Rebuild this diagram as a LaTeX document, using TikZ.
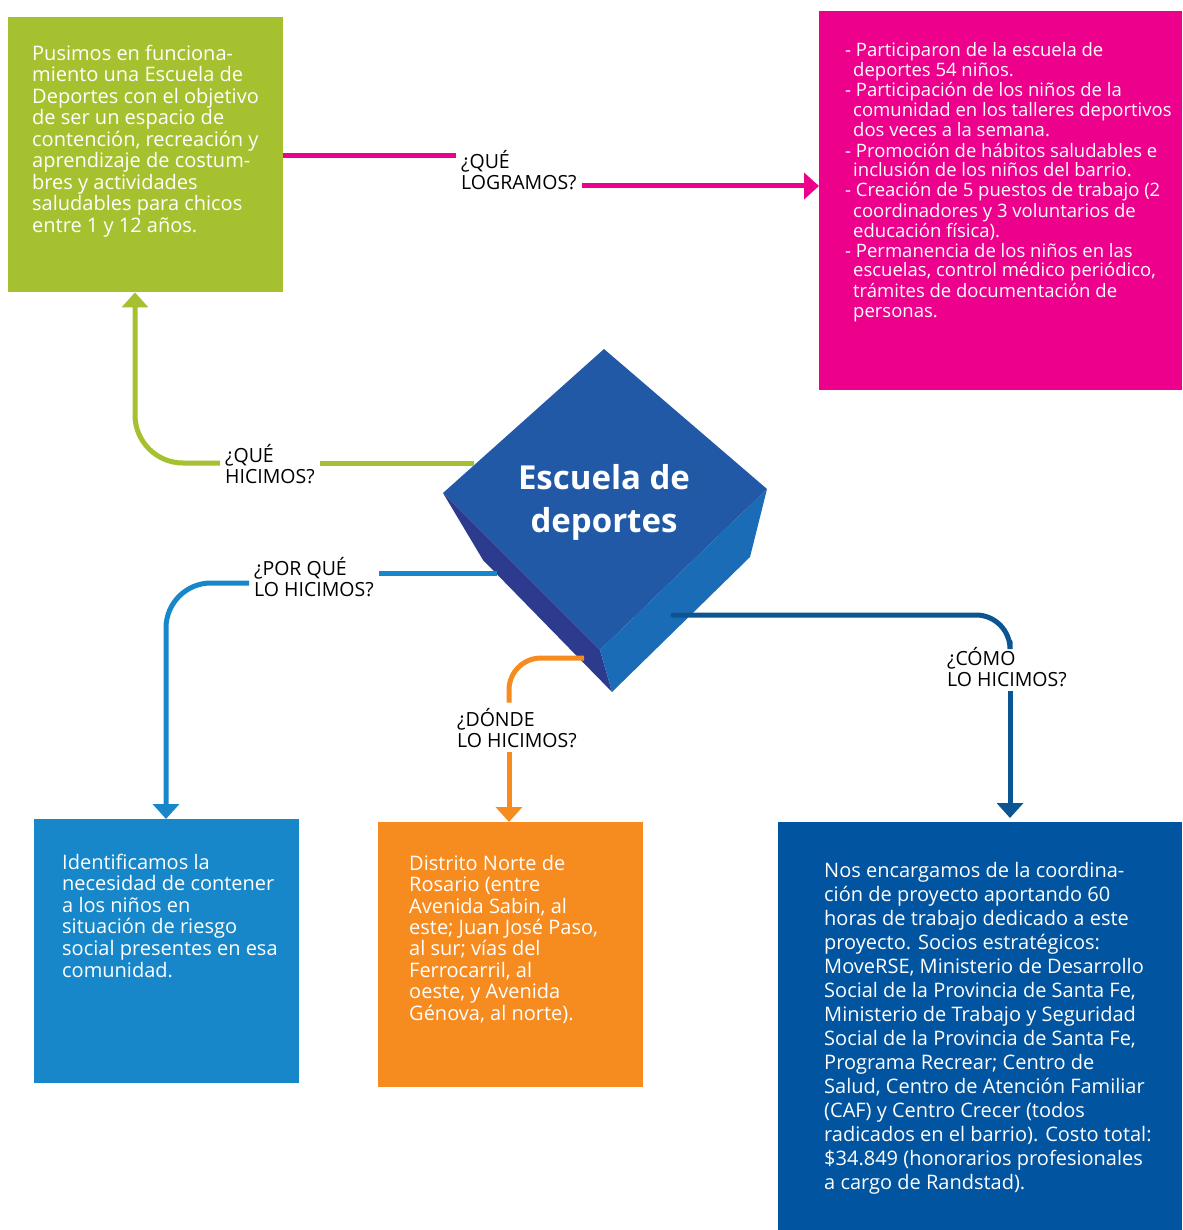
\documentclass[tikz,border=0pt]{standalone}
\usepackage{fontspec}
\setmainfont{Open Sans}
\usepackage{xcolor}
\usepackage{tikz}
\usetikzlibrary{arrows.meta}
\definecolor{grn}{HTML}{A5C12F}
\definecolor{pnk}{HTML}{EC008C}
\definecolor{lblue}{HTML}{1787C9}
\definecolor{orng}{HTML}{F68B1F}
\definecolor{dblue}{HTML}{0054A0}
\definecolor{dline}{HTML}{0A5592}
\definecolor{cubetop}{HTML}{2159A6}
\definecolor{cubeleft}{HTML}{2D3B8E}
\definecolor{cuberight}{HTML}{1B6CB6}
\tikzstyle{box} = [rectangle, anchor=north west, inner sep=0, draw=none]
\tikzstyle{boxtext} = [text=white, align=left, inner sep=0, anchor=base west, font=\fontsize{20}{21.5}\selectfont]
\tikzstyle{question} = [align=left, inner sep=5pt, anchor=base west, font=\fontsize{19.5}{21}\selectfont]
\tikzstyle{link} = [line width=5pt]
\tikzstyle{arrow} = [-{Triangle[width=26pt,length=15pt]}]
\newcommand{\contline}{\hspace*{8pt}}

\begin{document}
\begin{tikzpicture}[x=1pt, y=-1pt]
\useasboundingbox (0,0) rectangle (1182,1230);

% boxes
\node[box, fill=grn, minimum width=275, minimum height=275] (green) at (8,17) {};
\node[box, fill=pnk, minimum width=363, minimum height=379] (pink) at (819,11) {};
\node[box, fill=lblue, minimum width=265, minimum height=264] (blue) at (34,819) {};
\node[box, fill=orng, minimum width=265, minimum height=265] (orange) at (378,822) {};
\node[box, fill=dblue, minimum width=404, minimum height=408] (navy) at (778,822) {};

% texts (anchored at the baseline of their last line)
\node[boxtext] (greentxt) at ([xshift=24, yshift=-215.5]green.north west)
  {Pusimos en funciona-\\miento una Escuela de\\Deportes con el objetivo\\de ser un espacio de\\contención, recreación y\\aprendizaje de costum-\\bres y actividades\\saludables para chicos\\entre 1 y 12 años.};
\node[boxtext, font=\fontsize{18.5}{20}\selectfont] (pinktxt) at ([xshift=26, yshift=-306]pink.north west)
  {- Participaron de la escuela de\\\contline deportes 54 niños.\\- Participación de los niños de la\\\contline comunidad en los talleres deportivos\\\contline dos veces a la semana.\\- Promoción de hábitos saludables e\\\contline inclusión de los niños del barrio.\\- Creación de 5 puestos de trabajo (2\\\contline coordinadores y 3 voluntarios de\\\contline educación física).\\- Permanencia de los niños en las\\\contline escuelas, control médico periódico,\\\contline trámites de documentación de\\\contline personas.};
\node[boxtext, font=\fontsize{20}{21.6}\selectfont] (bluetxt) at ([xshift=28, yshift=-158]blue.north west)
  {Identificamos la\\necesidad de contener\\a los niños en\\situación de riesgo\\social presentes en esa\\comunidad.};
\node[boxtext, font=\fontsize{20}{21.4}\selectfont] (orangetxt) at ([xshift=31, yshift=-198]orange.north west)
  {Distrito Norte de\\Rosario (entre\\Avenida Sabin, al\\este; Juan José Paso,\\al sur; vías del\\Ferrocarril, al\\oeste, y Avenida\\Génova, al norte).};
\node[boxtext, font=\fontsize{20}{24}\selectfont] (navytxt) at ([xshift=46, yshift=-367]navy.north west)
  {Nos encargamos de la coordina-\\ción de proyecto aportando 60\\horas de trabajo dedicado a este\\proyecto. Socios estratégicos:\\MoveRSE, Ministerio de Desarrollo\\Social de la Provincia de Santa Fe,\\Ministerio de Trabajo y Seguridad\\Social de la Provincia de Santa Fe,\\Programa Recrear; Centro de\\Salud, Centro de Atención Familiar\\(CAF) y Centro Crecer (todos\\radicados en el barrio). Costo total:\\\$34.849 (honorarios profesionales\\a cargo de Randstad).};

% cube
\fill[cubetop] (604,349) -- (767,489) -- (600,650) -- (443,493) -- cycle;
\fill[cubeleft] (443,493) -- (600,650) -- (612,692) -- (483,560) -- cycle;
\fill[cuberight] (767,489) -- (750,557) -- (612,692) -- (600,650) -- cycle;
\node[text=white, align=center, inner sep=0, anchor=base, font=\bfseries\fontsize{33}{43}\selectfont] (hub) at (604,532) {Escuela de\\deportes};
\coordinate (cube-g) at (474,463);
\coordinate (cube-b) at (497,573);
\coordinate (cube-o) at (584,658);
\coordinate (cube-d) at (673,615);

% questions
\node[question] (hicimos) at (220,483) {¿QUÉ\\HICIMOS?};
\node[question] (lograr) at (456,190) {¿QUÉ\\LOGRAMOS?};
\node[question] (why) at (249,596) {¿POR QUÉ\\LO HICIMOS?};
\node[question] (where) at (452,747) {¿DÓNDE\\LO HICIMOS?};
\node[question] (how) at (942,686) {¿CÓMO\\LO HICIMOS?};

\coordinate (g-in) at ([xshift=127]green.south west);
\coordinate (b-in) at ([xshift=132]blue.north west);
\coordinate (o-in) at ([xshift=131]orange.north west);
\coordinate (d-in) at ([xshift=232]navy.north west);

% connectors
\draw[link, grn] (cube-g) -- (hicimos.east |- cube-g);
\draw[link, grn, arrow, rounded corners=48] (hicimos.west |- cube-g) -| (g-in);
\draw[link, pnk] (green.east |- 0,156) -- (lograr.west |- 0,156);
\draw[link, pnk, arrow] (lograr.east |- 0,186) -- (pink.west |- 0,186);
\draw[link, lblue] (cube-b) -- (why.east |- cube-b);
\draw[link, lblue, arrow, rounded corners=45] (why.west |- 0,583) -| (b-in);
\draw[link, orng, rounded corners=32] (cube-o) -| (where.north -| o-in);
\draw[link, orng, arrow] (where.south -| o-in) -- (o-in);
\draw[link, dline, line cap=round, rounded corners=34] (cube-d) -| (how.north -| d-in);
\draw[link, dline, arrow] (how.south -| d-in) -- ([yshift=4]d-in);
\end{tikzpicture}
\end{document}
